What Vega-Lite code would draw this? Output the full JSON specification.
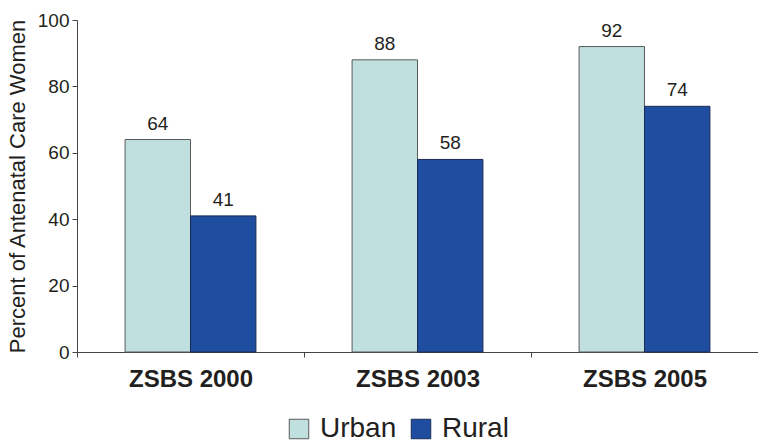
{
  "$schema": "https://vega.github.io/schema/vega-lite/v6.json",
  "autosize": {"type": "none"},
  "width": 681,
  "height": 332,
  "padding": {"left": 77, "top": 20, "right": 0, "bottom": 92},
  "background": "white",
  "config": {
    "view": {"stroke": null},
    "font": "Liberation Sans"
  },
  "data": {
    "values": [
      {"survey": "ZSBS 2000", "area": "Urban", "pct": 64},
      {"survey": "ZSBS 2000", "area": "Rural", "pct": 41},
      {"survey": "ZSBS 2003", "area": "Urban", "pct": 88},
      {"survey": "ZSBS 2003", "area": "Rural", "pct": 58},
      {"survey": "ZSBS 2005", "area": "Urban", "pct": 92},
      {"survey": "ZSBS 2005", "area": "Rural", "pct": 74}
    ]
  },
  "encoding": {
    "x": {
      "field": "survey", "type": "nominal",
      "scale": {"paddingInner": 0, "paddingOuter": 0},
      "axis": {
        "title": null, "labelAngle": 0, "labelFontSize": 24, "labelFontWeight": "bold",
        "labelColor": "#231f20", "labelPadding": 10, "tickBand": "extent",
        "domainColor": "#444", "tickColor": "#444", "tickSize": 5, "domainWidth": 1
      }
    },
    "xOffset": {
      "field": "area", "type": "nominal", "sort": ["Urban", "Rural"],
      "scale": {"paddingInner": 0, "paddingOuter": 0.735}
    },
    "y": {
      "field": "pct", "type": "quantitative",
      "scale": {"domain": [0, 100]},
      "axis": {
        "title": "Percent of Antenatal Care Women", "titleFontSize": 22, "titleFontWeight": "normal",
        "titleColor": "#231f20", "titlePadding": 8,
        "values": [0, 20, 40, 60, 80, 100], "labelFontSize": 19, "labelColor": "#231f20",
        "grid": false, "domainColor": "#444", "tickColor": "#444", "tickSize": 5, "labelPadding": 3
      }
    }
  },
  "layer": [
    {
      "mark": {"type": "bar", "strokeWidth": 1},
      "encoding": {
        "color": {
          "field": "area", "type": "nominal", "sort": ["Urban", "Rural"],
          "scale": {"domain": ["Urban", "Rural"], "range": ["#c0e0df", "#1f4ea1"]},
          "legend": {
            "title": null, "orient": "none", "direction": "horizontal",
            "legendX": 208, "legendY": 395,
            "symbolType": "square", "symbolSize": 380, "symbolStrokeWidth": 1, "symbolStrokeColor": "#333",
            "labelFontSize": 28, "labelColor": "#231f20", "symbolOffset": 0, "columnPadding": 10, "labelOffset": 7
          }
        },
        "stroke": {
          "field": "area", "type": "nominal",
          "scale": {"domain": ["Urban", "Rural"], "range": ["#5a5a5a", "#1a2a55"]},
          "legend": null
        }
      }
    },
    {
      "mark": {"type": "text", "baseline": "bottom", "dy": -6, "fontSize": 19, "color": "#231f20"},
      "encoding": {"text": {"field": "pct", "type": "quantitative"}}
    }
  ]
}
